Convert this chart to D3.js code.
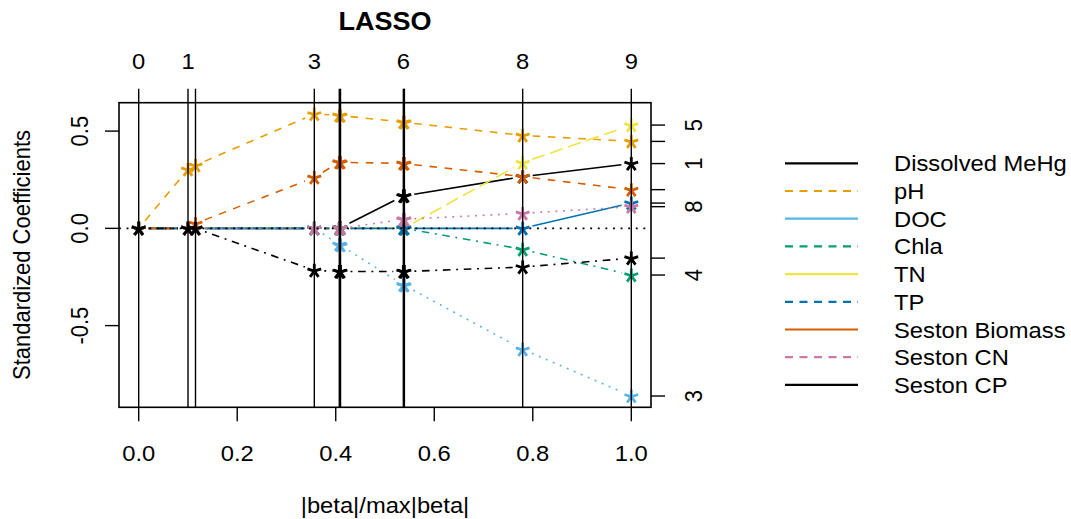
<!DOCTYPE html>
<html><head><meta charset="utf-8">
<script src="https://cdn.jsdelivr.net/npm/d3@7"></script>
<style>body{margin:0;background:#fff}svg{display:block}text{font-family:"Liberation Sans",Arial,sans-serif;fill:#000}</style>
</head><body><svg id="c" width="1071" height="519"></svg>
<script>
// ---- data ----
const steps = [0, 0.1001, 0.1153, 0.3565, 0.4072, 0.4097, 0.5372, 0.5394, 0.7795, 1.0];
const dfLabels = ["0", "1", "", "3", "", "", "6", "", "8", "9"];
const varNames = ["Dissolved MeHg", "pH", "DOC", "Chla", "TN", "TP", "Seston Biomass", "Seston CN", "Seston CP"];
const varColors = ["#000000", "#E69F00", "#56B4E9", "#009E73", "#F0E442", "#0072B2", "#D55E00", "#CC79A7", "#000000"];
const plotLty = ["solid", "dashed", "dotted", "dotdash", "longdash", "solid", "dashed", "dotted", "dotdash"];
const legendLty = ["solid", "dashed", "solid", "dashed", "solid", "dashed", "solid", "dashed", "solid"];
const coefMeHg    = [0, 0, 0, 0, 0, 0.003, 0.166, 0.167, 0.266, 0.333];
const coefPH      = [0, 0.303, 0.324, 0.588, 0.581, 0.580, 0.546, 0.545, 0.478, 0.447];
const coefDOC     = [0, 0, 0, 0, -0.082, -0.087, -0.291, -0.293, -0.622, -0.862];
const coefChla    = [0, 0, 0, 0, 0, 0, 0, 0, -0.108, -0.240];
const coefTN      = [0, 0, 0, 0, 0, 0, 0, 0.002, 0.338, 0.531];
const coefTP      = [0, 0, 0, 0, 0, 0, 0, 0, 0, 0.130];
const coefBiomass = [0, 0, 0.025, 0.262, 0.340, 0.339, 0.334, 0.333, 0.266, 0.199];
const coefCN      = [0, 0, 0, 0, 0, 0, 0.046, 0.047, 0.077, 0.1115];
const coefCP      = [0, 0, 0, -0.216, -0.222, -0.222, -0.222, -0.222, -0.199, -0.153];
const rightLabels = ["1", "", "3", "4", "5", "", "", "8", ""];
const xTicks = [0, 0.2, 0.4, 0.6, 0.8, 1.0];
const yTicks = [-0.5, 0, 0.5];

const coefs = [coefMeHg, coefPH, coefDOC, coefChla, coefTN, coefTP, coefBiomass, coefCN, coefCP];

// ---- layout ----
const svg = d3.select("#c");
const L = 119, R = 651, T = 102.7, B = 407.3;
const FS = 22, SX = 1.08;
const x = d3.scaleLinear().domain([-0.04, 1.04]).range([L, R]);
const allV = coefs.flat();
const ymin = d3.min(allV), ymax = d3.max(allV), pad = (ymax - ymin) * 0.04;
const y = d3.scaleLinear().domain([ymin - pad, ymax + pad]).range([B, T]);

const U = 1.9;
const dashes = {
  solid: null,
  dashed: [4 * U, 4 * U],
  dotted: [1 * U, 3 * U],
  dotdash: [1 * U, 3 * U, 4 * U, 3 * U],
  longdash: [7 * U, 3 * U],
};

function txt(px, py, s, o = {}) {
  const g = svg.append("g").attr("transform",
    `translate(${px},${py}) scale(${SX},1)` + (o.rot ? " rotate(-90)" : ""));
  g.append("text").attr("x", 0).attr("y", 0)
    .attr("text-anchor", o.anchor || "middle")
    .attr("font-size", o.size || FS)
    .attr("font-weight", o.weight || "normal")
    .text(s);
}

svg.append("defs").append("clipPath").attr("id", "clip")
  .append("rect").attr("x", L).attr("y", T).attr("width", R - L).attr("height", B - T);
const plot = svg.append("g").attr("clip-path", "url(#clip)");

// star marker (R pch "*")
function star(g, cx, cy, col) {
  const r = 7.2;
  const p = [-90, -18, 54, 126, 198].map(a => {
    const t = a * Math.PI / 180;
    return `M${cx},${cy + 0.7}L${cx + r * Math.cos(t)},${cy + 0.7 + r * Math.sin(t)}`;
  }).join("");
  g.append("path").attr("d", p).attr("stroke", col).attr("stroke-width", 2.8)
    .attr("fill", "none");
}

// series (type "b": segments with gaps around points)
const GAP = 10;
coefs.forEach((vals, k) => {
  const col = varColors[k];
  const da = dashes[plotLty[k]];
  for (let i = 0; i < vals.length - 1; i++) {
    const x0 = x(steps[i]), y0 = y(vals[i]), x1 = x(steps[i + 1]), y1 = y(vals[i + 1]);
    const d = Math.hypot(x1 - x0, y1 - y0);
    if (d <= 2 * GAP) continue;
    const ux = (x1 - x0) / d, uy = (y1 - y0) / d;
    const ln = plot.append("line")
      .attr("x1", x0 + ux * GAP).attr("y1", y0 + uy * GAP)
      .attr("x2", x1 - ux * GAP).attr("y2", y1 - uy * GAP)
      .attr("stroke", col).attr("stroke-width", 1.6);
    if (da) ln.attr("stroke-dasharray", da.join(","));
  }
  vals.forEach((v, i) => star(plot, x(steps[i]), y(v), col));
});

// vertical lines at steps and zero line
steps.forEach(s => {
  plot.append("line").attr("x1", x(s)).attr("x2", x(s)).attr("y1", T).attr("y2", B)
    .attr("stroke", "#000").attr("stroke-width", 1.4);
});
plot.append("line").attr("x1", L).attr("x2", R).attr("y1", y(0)).attr("y2", y(0))
  .attr("stroke", "#000").attr("stroke-width", 1.6).attr("stroke-dasharray", dashes.dotted.join(","));

// box
svg.append("rect").attr("x", L).attr("y", T).attr("width", R - L).attr("height", B - T)
  .attr("fill", "none").attr("stroke", "#000").attr("stroke-width", 1.6);

const TL = 14;
// bottom axis
xTicks.forEach(t => {
  svg.append("line").attr("x1", x(t)).attr("x2", x(t)).attr("y1", B).attr("y2", B + TL)
    .attr("stroke", "#000").attr("stroke-width", 1.4);
  txt(x(t), 460.5, d3.format(".1f")(t));
});
// top axis
steps.forEach((s, i) => {
  svg.append("line").attr("x1", x(s)).attr("x2", x(s)).attr("y1", T).attr("y2", T - TL)
    .attr("stroke", "#000").attr("stroke-width", 1.4);
  if (dfLabels[i]) txt(x(s), 68.5, dfLabels[i]);
});
// left axis
yTicks.forEach(t => {
  svg.append("line").attr("x1", L).attr("x2", L - TL).attr("y1", y(t)).attr("y2", y(t))
    .attr("stroke", "#000").attr("stroke-width", 1.4);
  txt(88, y(t), d3.format(".1f")(t).replace("−", "-"), { rot: true });
});
// right axis
coefs.forEach((vals, k) => {
  const v = vals[vals.length - 1];
  svg.append("line").attr("x1", R).attr("x2", R + TL).attr("y1", y(v)).attr("y2", y(v))
    .attr("stroke", "#000").attr("stroke-width", 1.4);
  if (rightLabels[k]) txt(701.5, y(v), rightLabels[k], { rot: true });
});

// titles
txt((L + R) / 2, 29.5, "LASSO", { size: 25, weight: "bold" });
txt((L + R) / 2, 513, "|beta|/max|beta|");
txt(29.5, (T + B) / 2, "Standardized Coefficients", { rot: true });

// legend
const legY0 = 163.3, legDY = 27.7;
varNames.forEach((n, k) => {
  const yy = legY0 + k * legDY;
  const ln = svg.append("line").attr("x1", 785).attr("x2", 858).attr("y1", yy).attr("y2", yy)
    .attr("stroke", varColors[k]).attr("stroke-width", 2.2);
  if (legendLty[k] === "dashed") ln.attr("stroke-dasharray", "8,6.5");
  txt(894, yy + 8, n, { anchor: "start" });
});
</script></body></html>
